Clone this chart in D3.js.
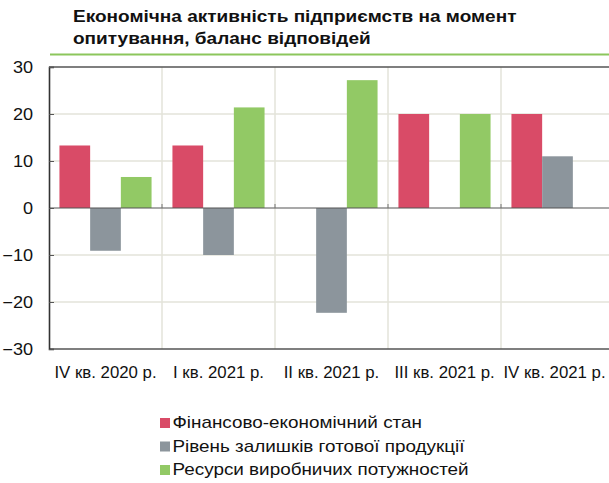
<!DOCTYPE html>
<html>
<head>
<meta charset="utf-8">
<script src="https://cdn.jsdelivr.net/npm/d3@7"></script>
<style>
  body { margin: 0; background: #fff; }
  svg { display: block; font-family: "Liberation Sans", Arial, sans-serif; }
</style>
</head>
<body>
<div id="chart"></div>
<script>
// chart data
var categories = ["IV кв. 2020 р.", "I кв. 2021 р.", "II кв. 2021 р.", "III кв. 2021 р.", "IV кв. 2021 р."];
var seriesNames = ["Фінансово-економічний стан", "Рівень залишків готової продукції", "Ресурси виробничих потужностей"];
var finState = [13.3, 13.3, 0, 20, 20];
var stockLevel = [-9.1, -10, -22.3, 0, 11];
var capacity = [6.6, 21.4, 27.2, 20, 0];
var yTicks = [-30, -20, -10, 0, 10, 20, 30];
var colors = ["#d94b67", "#8c959c", "#92c965"];

var series = [finState, stockLevel, capacity];

var width = 609, height = 483;
var margin = { top: 67, right: -5, bottom: 134, left: 49 };

var svg = d3.select("#chart").append("svg")
    .attr("width", width)
    .attr("height", height);

// title
var title = svg.append("text")
    .attr("transform", "translate(73,22) scale(1.12,1)")
    .attr("font-size", "17px")
    .attr("font-weight", "bold")
    .attr("fill", "#111");
title.append("tspan").attr("x", 0).text("Економічна активність підприємств на момент");
title.append("tspan").attr("x", 0).attr("dy", "1.27em").text("опитування, баланс відповідей");

svg.append("line")
    .attr("x1", 50).attr("x2", width)
    .attr("y1", 54.5).attr("y2", 54.5)
    .attr("stroke", "#8cc65c")
    .attr("stroke-width", 2);

// scales
var x = d3.scaleBand()
    .domain(categories)
    .range([margin.left, width - margin.right])
    .paddingInner(0).paddingOuter(0);

var xInner = d3.scaleBand()
    .domain(d3.range(series.length))
    .range([0, x.bandwidth()])
    .paddingInner(0)
    .paddingOuter(0.34);

var y = d3.scaleLinear()
    .domain([-30, 30])
    .range([height - margin.bottom, margin.top]);

// grid
var grid = svg.append("g").attr("class", "grid");
grid.selectAll("line.h")
    .data(yTicks.filter(function(d){ return d !== 0 && Math.abs(d) !== 30; }))
    .enter().append("line")
    .attr("class", "h")
    .attr("x1", margin.left).attr("x2", width)
    .attr("y1", function(d){ return y(d); })
    .attr("y2", function(d){ return y(d); })
    .attr("stroke", "#e3e3da")
    .attr("stroke-width", 1.5);

grid.selectAll("line.v")
    .data(categories.slice(1))
    .enter().append("line")
    .attr("class", "v")
    .attr("x1", function(d){ return x(d); })
    .attr("x2", function(d){ return x(d); })
    .attr("y1", y(30)).attr("y2", y(-30))
    .attr("stroke", "#e3e3da")
    .attr("stroke-width", 1.5);

// bars
var groups = svg.append("g").attr("class", "bars")
    .selectAll("g")
    .data(series)
    .enter().append("g")
    .attr("fill", function(d, i){ return colors[i]; });

groups.selectAll("rect")
    .data(function(d, i){
        return d.map(function(v, j){ return { s: i, cat: categories[j], value: v }; });
    })
    .enter().append("rect")
    .attr("x", function(d){ return x(d.cat) + xInner(d.s); })
    .attr("width", xInner.bandwidth())
    .attr("y", function(d){ return y(Math.max(0, d.value)); })
    .attr("height", function(d){ return Math.abs(y(d.value) - y(0)); });

// zero line and its small ticks
svg.append("line")
    .attr("x1", margin.left).attr("x2", width)
    .attr("y1", y(0)).attr("y2", y(0))
    .attr("stroke", "#555")
    .attr("stroke-width", 1.2);

svg.append("g").selectAll("line")
    .data(categories.slice(1))
    .enter().append("line")
    .attr("x1", function(d){ return x(d); })
    .attr("x2", function(d){ return x(d); })
    .attr("y1", y(0)).attr("y2", y(0) - 4)
    .attr("stroke", "#777")
    .attr("stroke-width", 1);

// frame: top, bottom
svg.append("line")
    .attr("x1", margin.left).attr("x2", width)
    .attr("y1", y(30)).attr("y2", y(30))
    .attr("stroke", "#555").attr("stroke-width", 1.6);
svg.append("line")
    .attr("x1", margin.left).attr("x2", width)
    .attr("y1", y(-30)).attr("y2", y(-30))
    .attr("stroke", "#555").attr("stroke-width", 1.6);

// y axis
var yAxis = d3.axisLeft(y)
    .tickValues(yTicks)
    .tickSize(-5)
    .tickFormat(d3.format("d"));

var yg = svg.append("g")
    .attr("transform", "translate(" + margin.left + ",0)")
    .call(yAxis);
yg.select(".domain").attr("stroke", "#333").attr("stroke-width", 1.6);
yg.selectAll(".tick line").attr("stroke", "#555");
yg.selectAll(".tick text")
    .attr("x", 0)
    .attr("transform", "translate(-16,0) scale(1.13,1)")
    .attr("font-size", "16px")
    .attr("font-family", "Liberation Sans, Arial, sans-serif")
    .attr("fill", "#111");

// x labels
var xAxis = d3.axisBottom(x).tickSize(0).tickPadding(0);
var xg = svg.append("g")
    .attr("transform", "translate(0," + y(-30) + ")")
    .call(xAxis);
xg.select(".domain").remove();
xg.selectAll(".tick text")
    .attr("y", 0)
    .attr("dy", 0)
    .attr("transform", function(d, i){
        // last label is nudged left a bit so it stays inside the picture
        var dx = i === categories.length - 1 ? -3 : 0;
        return "translate(" + dx + ",28.5) scale(1.05,1)";
    })
    .attr("font-size", "16px")
    .attr("font-family", "Liberation Sans, Arial, sans-serif")
    .attr("fill", "#111");

// legend
var legend = svg.append("g").attr("class", "legend")
    .selectAll("g")
    .data(seriesNames)
    .enter().append("g")
    .attr("transform", function(d, i){ return "translate(160," + (428 + i * 23.5) + ")"; });

legend.append("rect")
    .attr("x", 0).attr("y", -10)
    .attr("width", 10).attr("height", 10)
    .attr("fill", function(d, i){ return colors[i]; });

legend.append("text")
    .attr("transform", "translate(12.5,0) scale(1.18,1)")
    .attr("font-size", "16px")
    .attr("fill", "#111")
    .text(function(d){ return d; });
</script>
</body>
</html>
